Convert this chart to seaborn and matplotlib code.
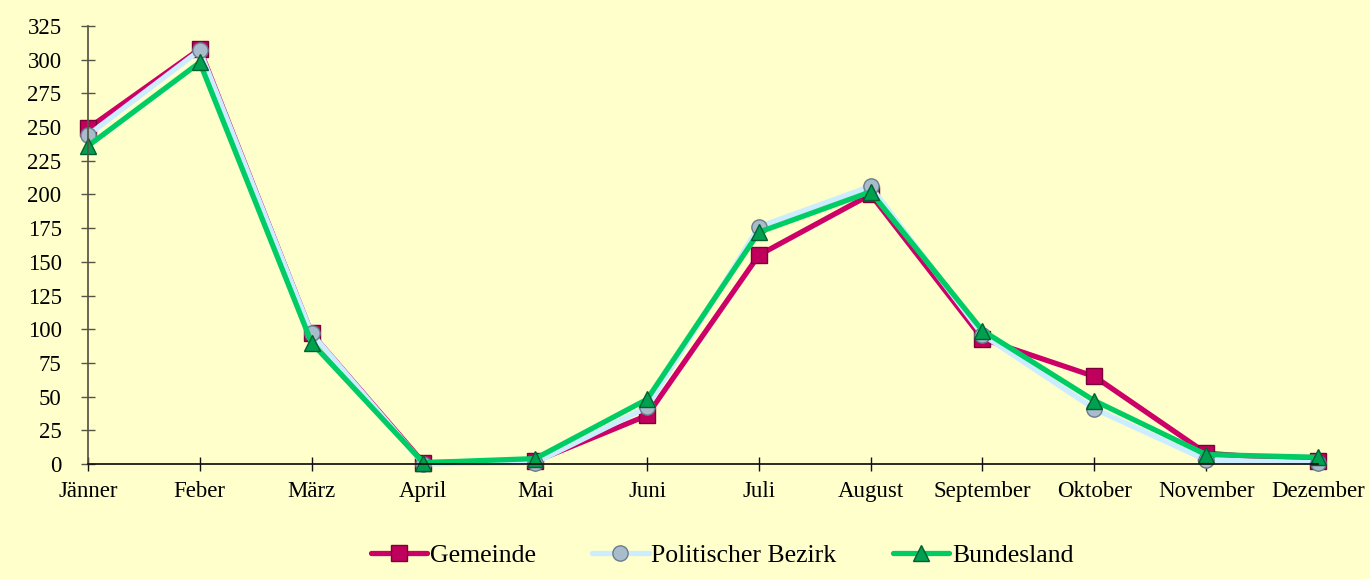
import numpy as np
import pandas as pd
import matplotlib
matplotlib.use("Agg")
import matplotlib.pyplot as plt
import seaborn as sns

months = ["Jänner", "Feber", "März", "April", "Mai", "Juni", "Juli",
          "August", "September", "Oktober", "November", "Dezember"]
gemeinde = [249, 308, 97, 1, 2, 36, 155, 200, 93, 65, 8, 2]
bezirk = [244, 307, 97, 0, 1, 42, 176, 206, 96, 41, 3, 1]
bundesland = [236, 298, 90, 1, 4, 48, 172, 202, 99, 47, 7, 5]
series = ["Gemeinde", "Politischer Bezirk", "Bundesland"]
y_ticks = list(range(0, 326, 25))

df = pd.DataFrame({
    "Monat": months * 3,
    "Wert": gemeinde + bezirk + bundesland,
    "Reihe": np.repeat(series, len(months)),
})

bg = "#FFFFCC"
sns.set_theme(style="white")
plt.rcParams["font.family"] = ["Liberation Serif", "DejaVu Serif"]
plt.rcParams["text.color"] = "black"

palette = {"Gemeinde": "#CC0066", "Politischer Bezirk": "#CCECFF", "Bundesland": "#00CC66"}
markers = {"Gemeinde": "s", "Politischer Bezirk": "o", "Bundesland": "^"}
face = {"Gemeinde": "#C0005C", "Politischer Bezirk": "#A8BCCC", "Bundesland": "#00A050"}
edge = {"Gemeinde": "#7A0038", "Politischer Bezirk": "#6A7C8C", "Bundesland": "#006030"}

fig = plt.figure(figsize=(13.7, 5.79), dpi=100, facecolor=bg)
ax = fig.add_axes([0.0642, 0.1986, 0.8978, 0.7564])
ax.set_facecolor(bg)

sns.lineplot(data=df, x="Monat", y="Wert", hue="Reihe", style="Reihe",
             hue_order=series, style_order=series, palette=palette,
             markers=markers, dashes=False, linewidth=3.8, markersize=11,
             sort=False, ax=ax, legend=False)

for line, name in zip(ax.lines, series):
    line.set_markerfacecolor(face[name])
    line.set_markeredgecolor(edge[name])
    line.set_markeredgewidth(1.0)
    line.set_clip_on(False)

ax.set_xlim(0, len(months) - 1)
ax.set_ylim(0, 325)
ax.set_yticks(y_ticks)
ax.set_xlabel("")
ax.set_ylabel("")
for s in ["top", "right"]:
    ax.spines[s].set_visible(False)
ax.spines["left"].set_color("#555544")
ax.spines["bottom"].set_color("#111111")
ax.tick_params(axis="y", direction="inout", length=10, width=1, color="#555544",
               pad=14, labelsize=16.5, labelcolor="black", left=True)
ax.tick_params(axis="x", direction="inout", length=10, width=1, color="#111111",
               pad=7, labelsize=16.5, labelcolor="black", bottom=True)

handles = []
for name in series:
    h, = ax.plot([], [], color=palette[name], linewidth=3.8, marker=markers[name],
                 markersize=11, markerfacecolor=face[name], markeredgecolor=edge[name])
    handles.append(h)
fig.legend(handles, series, loc="center", bbox_to_anchor=(0.527, 0.04), ncol=3,
           frameon=False, fontsize=18.5, handlelength=2.2, handletextpad=0.1,
           columnspacing=2.2)

fig.savefig("out.png", dpi=100, facecolor=bg)
